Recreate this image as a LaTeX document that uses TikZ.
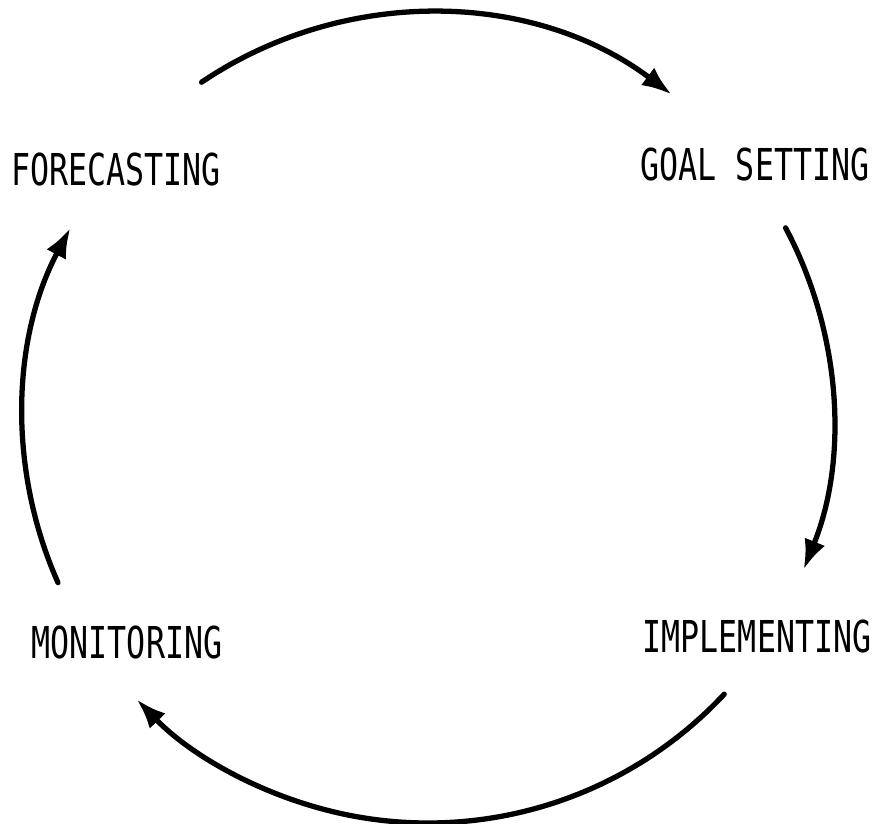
\documentclass[tikz,border=0pt]{standalone}
\usepackage{fontspec}
\usetikzlibrary{arrows.meta,calc}

\newfontfamily\stagefont[FakeStretch = 0.72]{DejaVu Sans Mono}

\begin{document}
\begin{tikzpicture}
[
	x						= 0.2mm,
	y						= 0.2mm,
	stage/.style			=
	{
		font				= \stagefont\fontsize{25}{30}\selectfont,
		inner sep			= 0pt
	},
	cycle arrow/.style		=
	{
		line width			= 3pt,
		line cap			= round,
		-{Latex[length = 6mm, width = 4.4mm]}
	},
]

\useasboundingbox (0,0) rectangle (876,824);

% the four stages, clockwise from the top left
\node [stage] (forecasting)		at (116,654) {FORECASTING};
\node [stage] (goal setting)	at (755,659) {GOAL SETTING};
\node [stage] (implementing)	at (757,187) {IMPLEMENTING};
\node [stage] (monitoring)		at (127,181) {MONITORING};

% all arrows sit on one circle round the middle
\coordinate (centre) at (428,406);
\def\radius{405}

\foreach \from/\to/\name in {124/53/forecasting, 28/-22/goal setting, -43/-136/implementing, 204/152/monitoring}
{
	\coordinate (\name\space out) at ($(centre) + (\from:\radius)$);
	\draw [cycle arrow] (\name\space out) arc [start angle = \from, end angle = \to, radius = \radius];
}

\end{tikzpicture}
\end{document}
